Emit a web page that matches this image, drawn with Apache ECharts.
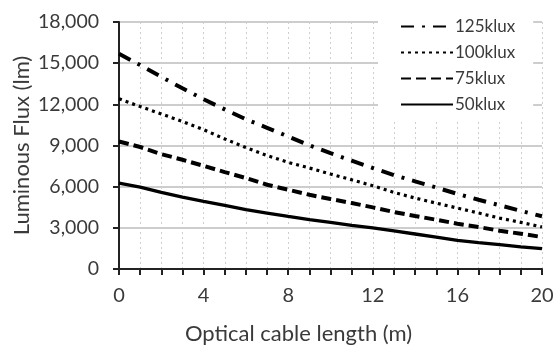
<!DOCTYPE html>
<html>
<head>
<meta charset="utf-8">
<script src="https://cdn.jsdelivr.net/npm/echarts@6/dist/echarts.min.js"></script>
<style>html,body{margin:0;padding:0;background:#fff}#c{width:555px;height:351px}</style>
</head>
<body>
<div id="c"></div>
<script>
const lengths = [0,1,2,3,4,5,6,7,8,9,10,11,12,13,14,15,16,17,18,19,20];
const seriesNames = ['125klux','100klux','75klux','50klux'];
const flux125 = [15680,14860,14000,13170,12370,11630,10910,10290,9660,9020,8440,7900,7360,6840,6390,5940,5470,5050,4640,4240,3840];
const flux100 = [12400,11840,11300,10750,10150,9480,8850,8270,7770,7360,6920,6500,6070,5580,5170,4800,4440,4080,3710,3400,3060];
const flux75  = [9290,8890,8370,7960,7520,7060,6630,6140,5780,5410,5100,4810,4490,4150,3860,3590,3300,3060,2790,2570,2330];
const flux50  = [6260,5970,5580,5240,4920,4630,4320,4080,3830,3590,3390,3180,2990,2770,2550,2330,2090,1920,1770,1620,1480];
const yTicks = [0,3000,6000,9000,12000,15000,18000];

const txt = '#3a3a3a';
const font = 'Lato';
function pairs(v){ return lengths.map((x,i)=>[x,v[i]]); }
const styles = [
  {width:4, type:[13,8,3,8]},
  {width:3.2, type:[3,4]},
  {width:4, type:[10,5]},
  {width:3.3, type:'solid'}
];
const vals = [flux125, flux100, flux75, flux50];

const chart = echarts.init(document.getElementById('c'));
chart.setOption({
  animation:false,
  textStyle:{fontFamily:font, color:txt},
  grid:{left:119, right:13, top:22, bottom:82, containLabel:false, outerBoundsMode:'none'},
  legend:{
    orient:'vertical', left:378, top:10,
    padding:[8,18,8,22],
    backgroundColor:'#fff',
    itemWidth:52, itemHeight:20, itemGap:9,
    itemStyle:{opacity:0},
    textStyle:{fontFamily:font, fontSize:17, color:txt, padding:[0,0,0,-3]},
    data:seriesNames
  },
  xAxis:{
    type:'value', min:0, max:20, interval:4,
    name:'Optical cable length (m)', nameLocation:'middle', nameGap:54, nameMoveOverlap:false,
    nameTextStyle:{fontFamily:font, fontSize:22, color:txt, padding:[0,64,0,0]},
    axisLine:{show:true, lineStyle:{color:'#222', width:2}},
    axisTick:{show:true, length:6, lineStyle:{color:'#222', width:2}},
    minorTick:{show:true, splitNumber:4, length:6, lineStyle:{color:'#222', width:2}},
    axisLabel:{fontFamily:font, fontSize:20, color:txt, margin:17},
    splitLine:{show:true, lineStyle:{color:'#cfcfcf', type:[2,3], width:1}},
    minorSplitLine:{show:true, lineStyle:{color:'#cfcfcf', type:[2,3], width:1}}
  },
  yAxis:{
    type:'value', min:0, max:18000, interval:3000,
    name:'Luminous Flux (lm)', nameLocation:'middle', nameGap:86, nameMoveOverlap:false,
    nameTextStyle:{fontFamily:font, fontSize:22, color:txt},
    axisLine:{show:true, lineStyle:{color:'#222', width:2}},
    axisTick:{show:true, length:6, lineStyle:{color:'#222', width:2}},
    axisLabel:{fontFamily:font, fontSize:19.5, color:txt, margin:20,
      formatter:v=>yTicks.includes(v)?v.toLocaleString('en-US'):''},
    splitLine:{show:true, lineStyle:{color:'#bdbdbd', width:1.5}}
  },
  series: seriesNames.map((n,i)=>({
    name:n, type:'line', symbol:'none', data:pairs(vals[i]),
    lineStyle:{color:'#000', width:styles[i].width, type:styles[i].type, cap:'butt'},
    itemStyle:{color:'#000'},
    z:3
  }))
});
</script>
</body>
</html>
